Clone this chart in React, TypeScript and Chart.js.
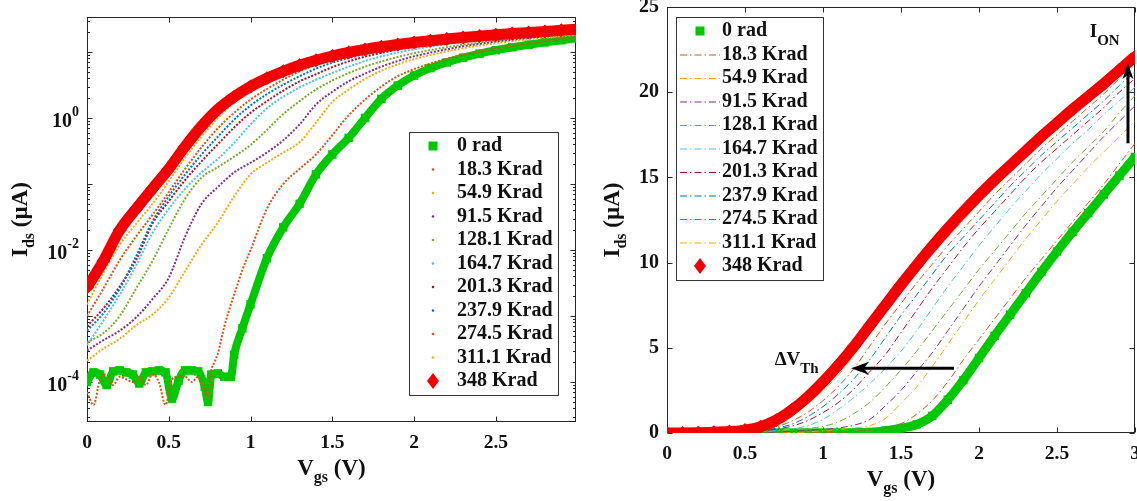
import { useEffect, useRef } from 'react';
import { Chart, registerables } from 'chart.js';

Chart.register(...registerables);

// ---------------- data ----------------
const SERIES_LABELS = ['0 rad', '18.3 Krad', '54.9 Krad', '91.5 Krad', '128.1 Krad', '164.7 Krad', '201.3 Krad', '237.9 Krad', '274.5 Krad', '311.1 Krad', '348 Krad'];
const SERIES_COLORS = ['rgb(0,200,0)', '#D95319', '#F5A81C', '#7E2F8E', '#77AC30', '#4DBEEE', '#A2142F', '#0072BD', '#D95319', '#F5A81C', 'rgb(242,0,0)'];

const VGS = [0, 0.1, 0.2, 0.3, 0.4, 0.5, 0.6, 0.7, 0.8, 0.9, 1.0, 1.1, 1.2, 1.3, 1.4, 1.5, 1.6, 1.7, 1.8, 1.9, 2.0, 2.1, 2.2, 2.3, 2.4, 2.5, 2.6, 2.7, 2.8, 2.9, 3.0];
const VGS_0RAD = [0, 0.04, 0.08, 0.12, 0.16, 0.2, 0.24, 0.28, 0.32, 0.36, 0.4, 0.44, 0.48, 0.52, 0.56, 0.6, 0.64, 0.68, 0.72, 0.74, 0.76, 0.8, 0.84, 0.88, 0.9, 0.95, 1.0, 1.1, 1.2, 1.3, 1.4, 1.5, 1.6, 1.7, 1.8, 1.9, 2.0, 2.1, 2.2, 2.3, 2.4, 2.5, 2.6, 2.7, 2.8, 2.9, 3.0];
const VGS_18K = [0, 0.04, 0.08, 0.12, 0.16, 0.2, 0.24, 0.28, 0.32, 0.36, 0.4, 0.44, 0.48, 0.52, 0.56, 0.6, 0.64, 0.68, 0.72, 0.74, 0.76, 0.78, 0.8, 0.84, 0.88, 0.9, 0.95, 1.0, 1.1, 1.2, 1.3, 1.4, 1.5, 1.6, 1.7, 1.8, 1.9, 2.0, 2.1, 2.2, 2.3, 2.4, 2.5, 2.6, 2.7, 2.8, 2.9, 3.0];

// drain current in µA
const I_0RAD = [1.0e-4, 1.4e-4, 1.3e-4, 9e-5, 1.45e-4, 1.5e-4, 1.4e-4, 1.3e-4, 9.5e-5, 1.4e-4, 1.45e-4, 1.5e-4, 1.4e-4, 5.6e-5, 1.05e-4, 1.5e-4, 1.5e-4, 1.45e-4, 8.5e-5, 5e-5, 1.3e-4, 1.35e-4, 1.2e-4, 1.2e-4, 2.6e-4, 6.5e-4, 1.5e-3, 7.5e-3, 0.022, 0.05, 0.14, 0.28, 0.5, 1.0, 1.95, 3.1, 4.4, 5.7, 6.95, 8.2, 9.45, 10.65, 11.8, 12.9, 14.0, 15.1, 16.2];
const I_18K = [7e-5, 4.5e-5, 1.1e-4, 1.3e-4, 9e-5, 1.2e-4, 1.1e-4, 1.0e-4, 1.2e-4, 9e-5, 1.3e-4, 1.0e-4, 4.5e-5, 1.1e-4, 1.2e-4, 1.2e-4, 1.0e-4, 1.2e-4, 7e-5, 6e-5, 1.5e-4, 2e-4, 2.7e-4, 7e-4, 1.5e-3, 2.1e-3, 5e-3, 0.010, 0.042, 0.10, 0.17, 0.28, 0.55, 1.1, 1.9, 3.0, 4.3, 5.5, 6.7, 7.9, 9.1, 10.2, 11.3, 12.4, 13.5, 14.6, 15.8, 17.0];
const I_54K = [2.1e-4, 3.2e-4, 4.5e-4, 7.2e-4, 1.05e-3, 1.9e-3, 4.8e-3, 0.012, 0.026, 0.065, 0.14, 0.21, 0.3, 0.43, 0.85, 1.75, 2.7, 3.9, 5.2, 6.5, 7.8, 9.0, 10.2, 11.4, 12.5, 13.6, 14.6, 15.6, 16.5, 17.4, 18.3];
const I_91K = [3.0e-4, 4.3e-4, 6e-4, 9.5e-4, 1.8e-3, 3.8e-3, 0.016, 0.05, 0.09, 0.15, 0.21, 0.3, 0.46, 0.8, 1.6, 2.5, 3.6, 4.7, 6.0, 7.3, 8.6, 9.8, 11.0, 12.2, 13.3, 14.4, 15.4, 16.4, 17.4, 18.3, 19.2];
const I_128K = [4.0e-4, 5.5e-4, 1.0e-3, 2.6e-3, 6.8e-3, 0.021, 0.06, 0.125, 0.18, 0.26, 0.39, 0.66, 1.15, 1.8, 2.7, 3.7, 4.8, 6.0, 7.2, 8.4, 9.6, 10.7, 11.8, 12.9, 13.9, 14.9, 15.9, 16.8, 17.7, 18.8, 19.8];
const I_164K = [3.6e-4, 8.5e-4, 2.1e-3, 5.8e-3, 0.018, 0.042, 0.085, 0.15, 0.24, 0.42, 0.8, 1.4, 2.1, 2.9, 3.8, 4.8, 6.0, 7.3, 8.6, 9.8, 11.0, 12.1, 13.2, 14.2, 15.2, 16.1, 17.0, 17.8, 18.7, 19.5, 20.3];
const I_201K = [7e-4, 1.3e-3, 2.8e-3, 7e-3, 0.025, 0.055, 0.115, 0.22, 0.4, 0.72, 1.2, 1.8, 2.6, 3.6, 4.6, 5.9, 7.2, 8.5, 9.7, 10.9, 12.0, 13.0, 14.0, 15.0, 15.9, 16.7, 17.5, 18.3, 19.1, 20.0, 20.8];
const I_237K = [6e-4, 1.1e-3, 2.6e-3, 8e-3, 0.027, 0.065, 0.14, 0.28, 0.52, 0.95, 1.55, 2.3, 3.2, 4.3, 5.6, 6.9, 8.1, 9.3, 10.5, 11.5, 12.5, 13.5, 14.5, 15.4, 16.3, 17.1, 17.9, 18.7, 19.5, 20.4, 21.2];
const I_274K = [1.0e-3, 2.6e-3, 7e-3, 0.016, 0.034, 0.075, 0.17, 0.36, 0.7, 1.2, 1.9, 2.75, 3.8, 5.1, 6.4, 7.6, 8.8, 9.9, 11.0, 12.0, 13.0, 14.0, 14.9, 15.8, 16.7, 17.5, 18.3, 19.1, 19.9, 20.8, 21.6];
const I_311K = [1.5e-3, 4.5e-3, 0.012, 0.025, 0.05, 0.11, 0.25, 0.52, 1.0, 1.7, 2.5, 3.4, 4.6, 5.9, 7.1, 8.3, 9.4, 10.5, 11.5, 12.5, 13.5, 14.4, 15.3, 16.2, 17.0, 17.9, 18.7, 19.4, 20.2, 21.1, 21.9];
const I_348K = [2.7e-3, 6.8e-3, 0.02, 0.042, 0.085, 0.17, 0.37, 0.75, 1.35, 2.1, 3.0, 4.0, 5.1, 6.3, 7.5, 8.7, 9.85, 10.95, 12.0, 13.0, 13.95, 14.85, 15.7, 16.55, 17.4, 18.2, 19.0, 19.75, 20.5, 21.3, 22.1];

const SERIES_V = [VGS_0RAD, VGS_18K, VGS, VGS, VGS, VGS, VGS, VGS, VGS, VGS, VGS];
const SERIES_I = [I_0RAD, I_18K, I_54K, I_91K, I_128K, I_164K, I_201K, I_237K, I_274K, I_311K, I_348K];

const X_TICKS = [0, 0.5, 1, 1.5, 2, 2.5, 3];
const X_TICK_LABELS = ['0', '0.5', '1', '1.5', '2', '2.5', '3'];
const LOG_LABEL_EXPONENTS = [-4, -2, 0];
const LIN_Y_TICKS = [0, 5, 10, 15, 20, 25];

// annotations (data coordinates of the right panel)
const VTH_ARROW = { vFrom: 1.84, vTo: 1.18, i: 3.8 };
const ION_ARROW = { v: 2.955, iFrom: 17.0, iTo: 21.7 };
const VTH_LABEL = { v: 0.69, i: 4.28 };
const ION_LABEL = { v: 2.71, i: 23.5 };

// ---------------- drawing helpers ----------------
const FONT = '"Liberation Serif", "Times New Roman", Times, serif';
const INK = '#111';
type Part = { t: string; k?: 0 | 1 | 2 }; // 1 = sub, 2 = sup

function rich(ctx: CanvasRenderingContext2D, parts: Part[], x: number, y: number, size: number, align: 'left' | 'center' | 'right', small?: number, shift?: number) {
  const ss = small ?? size * 0.72;
  const sh = shift ?? size * 0.42;
  const f = (s: number) => `bold ${s}px ${FONT}`;
  const ws = parts.map((p) => { ctx.font = f(p.k ? ss : size); return ctx.measureText(p.t).width; });
  const total = ws.reduce((a, b) => a + b, 0);
  let cx = align === 'left' ? x : align === 'center' ? x - total / 2 : x - total;
  ctx.textAlign = 'left';
  ctx.textBaseline = 'middle';
  ctx.fillStyle = INK;
  parts.forEach((p, i) => {
    ctx.font = f(p.k ? ss : size);
    const dy = p.k === 1 ? sh : p.k === 2 ? -sh : 0;
    ctx.fillText(p.t, cx, y + dy);
    cx += ws[i];
  });
}

function arrow(ctx: CanvasRenderingContext2D, x0: number, y0: number, x1: number, y1: number, lw: number, hl: number, hw: number) {
  const ang = Math.atan2(y1 - y0, x1 - x0);
  const ux = Math.cos(ang), uy = Math.sin(ang), nx = -uy, ny = ux;
  ctx.save();
  ctx.strokeStyle = '#000';
  ctx.fillStyle = '#000';
  ctx.lineWidth = lw;
  ctx.beginPath();
  ctx.moveTo(x0, y0);
  ctx.lineTo(x1 - ux * hl * 0.6, y1 - uy * hl * 0.6);
  ctx.stroke();
  const bx = x1 - ux * hl, by = y1 - uy * hl;
  ctx.beginPath();
  ctx.moveTo(x1, y1);
  ctx.lineTo(bx + nx * hw / 2, by + ny * hw / 2);
  ctx.lineTo(x1 - ux * hl * 0.7, y1 - uy * hl * 0.7);
  ctx.lineTo(bx - nx * hw / 2, by - ny * hw / 2);
  ctx.closePath();
  ctx.fill();
  ctx.restore();
}

type Kind = 'log' | 'lin';

function drawLegend(chart: any, kind: Kind) {
  const { ctx, chartArea: a } = chart;
  const ds = chart.data.datasets;
  const size = 20;
  const left = kind === 'log' ? a.left + 322 : a.left + 9;
  const top = kind === 'log' ? a.top + 115 : a.top + 10;
  const textOff = kind === 'log' ? 48 : 46;
  const markX = left + 24;
  const rowH = 23.5;
  ctx.save();
  ctx.font = `bold ${size}px ${FONT}`;
  let maxW = 0;
  ds.forEach((d: any) => { maxW = Math.max(maxW, ctx.measureText(d.label).width); });
  const w = textOff + maxW + 5;
  const h = 14 + (ds.length - 1) * rowH + 14;
  ctx.fillStyle = '#fff';
  ctx.fillRect(left, top, w, h);
  ctx.strokeStyle = '#333';
  ctx.lineWidth = 1;
  ctx.strokeRect(Math.round(left) + 0.5, Math.round(top) + 0.5, Math.round(w), Math.round(h));
  ds.forEach((d: any, k: number) => {
    const y = top + 14 + k * rowH;
    ctx.fillStyle = d.borderColor;
    ctx.strokeStyle = d.borderColor;
    if (k === 0) {
      ctx.fillRect(markX - 4.5, y - 4.5, 9, 9);
    } else if (k === ds.length - 1) {
      ctx.beginPath();
      ctx.moveTo(markX, y - 8); ctx.lineTo(markX + 6, y); ctx.lineTo(markX, y + 8); ctx.lineTo(markX - 6, y);
      ctx.closePath(); ctx.fill();
    } else if (kind === 'log') {
      ctx.beginPath(); ctx.arc(markX, y, 1.3, 0, Math.PI * 2); ctx.fill();
    } else {
      ctx.lineWidth = 1;
      ctx.setLineDash([7, 3, 1.5, 3]);
      ctx.beginPath(); ctx.moveTo(left + 4, y + 0.5); ctx.lineTo(left + 44, y + 0.5); ctx.stroke();
      ctx.setLineDash([]);
    }
    rich(ctx, [{ t: d.label }], left + textOff, y, size, 'left');
  });
  ctx.restore();
}

function makeDecor(kind: Kind) {
  return {
    id: 'decor-' + kind,
    beforeDatasetsDraw(chart: any) {
      const { ctx, chartArea: a } = chart;
      const xs = chart.scales.x, ys = chart.scales.y;
      ctx.save();
      ctx.strokeStyle = '#262626';
      ctx.lineWidth = 1;
      const L = Math.round(a.left) + 0.5, R = Math.round(a.right) - 0.5, T = Math.round(a.top) + 0.5, B = Math.round(a.bottom) - 0.5;
      ctx.strokeRect(L, T, R - L, B - T);
      ctx.beginPath();
      X_TICKS.forEach((v) => {
        if (v < xs.min || v > xs.max) return;
        const px = Math.round(xs.getPixelForValue(v)) + 0.5;
        ctx.moveTo(px, B); ctx.lineTo(px, B - 5);
        ctx.moveTo(px, T); ctx.lineTo(px, T + 5);
      });
      const yTick = (v: number, len: number) => {
        const py = Math.round(ys.getPixelForValue(v)) + 0.5;
        ctx.moveTo(L, py); ctx.lineTo(L + len, py);
        ctx.moveTo(R, py); ctx.lineTo(R - len, py);
      };
      if (kind === 'log') {
        for (let e = -6; e <= 2; e++) {
          for (let m = 1; m <= 9; m++) {
            const v = m * Math.pow(10, e);
            if (v < ys.min || v > ys.max) continue;
            yTick(v, m === 1 ? 5 : 2.5);
          }
        }
      } else {
        LIN_Y_TICKS.forEach((v) => yTick(v, 5));
      }
      ctx.stroke();
      ctx.restore();
    },
    afterDraw(chart: any) {
      const { ctx, chartArea: a } = chart;
      const xs = chart.scales.x, ys = chart.scales.y;
      ctx.save();
      X_TICKS.forEach((v, i) => {
        if (v < xs.min || v > xs.max) return;
        rich(ctx, [{ t: X_TICK_LABELS[i] }], xs.getPixelForValue(v), a.bottom + 21, 19.5, 'center');
      });
      if (kind === 'log') {
        LOG_LABEL_EXPONENTS.forEach((e) => {
          const py = ys.getPixelForValue(Math.pow(10, e));
          rich(ctx, [{ t: '10' }, { t: String(e), k: 2 }], a.left - 8, py + 3.5, 20, 'right', 14, 9);
        });
      } else {
        LIN_Y_TICKS.forEach((v) => {
          rich(ctx, [{ t: String(v) }], a.left - 8, ys.getPixelForValue(v), 20, 'right');
        });
      }
      const cx = (a.left + a.right) / 2;
      rich(ctx, [{ t: 'V' }, { t: 'gs', k: 1 }, { t: ' (V)' }], cx, a.bottom + 47, 23, 'center', 16, 9);
      ctx.save();
      ctx.translate(a.left - (kind === 'log' ? 66 : 54), (a.top + a.bottom) / 2);
      ctx.rotate(-Math.PI / 2);
      rich(ctx, [{ t: 'I' }, { t: 'ds', k: 1 }, { t: ' (\u00B5A)' }], 0, 0, 23, 'center', 16, 9);
      ctx.restore();
      drawLegend(chart, kind);
      if (kind === 'lin') {
        arrow(ctx, xs.getPixelForValue(VTH_ARROW.vFrom), ys.getPixelForValue(VTH_ARROW.i), xs.getPixelForValue(VTH_ARROW.vTo), ys.getPixelForValue(VTH_ARROW.i), 3, 18, 13);
        arrow(ctx, xs.getPixelForValue(ION_ARROW.v), ys.getPixelForValue(ION_ARROW.iFrom), xs.getPixelForValue(ION_ARROW.v), ys.getPixelForValue(ION_ARROW.iTo), 3, 16, 11);
        rich(ctx, [{ t: '\u0394V' }, { t: 'Th', k: 1 }], xs.getPixelForValue(VTH_LABEL.v), ys.getPixelForValue(VTH_LABEL.i), 19, 'left', 15, 9);
        rich(ctx, [{ t: 'I' }, { t: 'ON', k: 1 }], xs.getPixelForValue(ION_LABEL.v), ys.getPixelForValue(ION_LABEL.i), 19, 'left', 15, 9);
      }
      ctx.restore();
    },
  };
}

function buildDatasets(kind: Kind) {
  const n = SERIES_LABELS.length;
  return SERIES_LABELS.map((label, k) => {
    const data = SERIES_V[k].map((v, j) => ({ x: v, y: SERIES_I[k][j] }));
    const color = SERIES_COLORS[k];
    const base: any = {
      label, data, borderColor: color, backgroundColor: color, order: n - k,
      cubicInterpolationMode: 'monotone', borderJoinStyle: 'round', pointHoverRadius: 0,
    };
    if (k === 0) return { ...base, borderWidth: kind === 'log' ? 8 : 9, pointStyle: 'rect', pointRadius: 6, pointBorderWidth: 0 };
    if (k === n - 1) return { ...base, borderWidth: 11, pointStyle: 'rectRot', pointRadius: 7, pointBorderWidth: 0 };
    if (kind === 'log') return { ...base, borderWidth: 2, borderDash: [2, 1.6], pointRadius: 0 };
    return { ...base, borderWidth: 1, borderDash: [7, 3, 1.5, 3], pointRadius: 0 };
  });
}

function makeConfig(kind: Kind): any {
  const isLog = kind === 'log';
  return {
    type: 'line',
    data: { datasets: buildDatasets(kind) },
    options: {
      animation: false,
      responsive: false,
      devicePixelRatio: 1,
      events: [],
      layout: { padding: isLog ? { left: 0, right: 14, top: 17, bottom: 0 } : { left: 0, right: 4, top: 7, bottom: 0 } },
      plugins: { legend: { display: false }, tooltip: { enabled: false }, title: { display: false } },
      scales: {
        x: {
          type: 'linear', min: 0, max: isLog ? 2.99 : 3,
          grid: { display: false, drawTicks: false }, border: { display: false }, ticks: { display: false },
          afterFit: (s: any) => { s.height = isLog ? 79 : 68; },
        },
        y: isLog
          ? {
            type: 'logarithmic', min: 2.48e-5, max: 33.9,
            grid: { display: false, drawTicks: false }, border: { display: false }, ticks: { display: false },
            afterFit: (s: any) => { s.width = 87; },
          }
          : {
            type: 'linear', min: 0, max: 25,
            grid: { display: false, drawTicks: false }, border: { display: false }, ticks: { display: false },
            afterFit: (s: any) => { s.width = 87; },
          },
      },
    },
    plugins: [makeDecor(kind)],
  };
}

export default function App() {
  const leftRef = useRef<HTMLCanvasElement>(null);
  const rightRef = useRef<HTMLCanvasElement>(null);
  useEffect(() => {
    const c1 = new Chart(leftRef.current as HTMLCanvasElement, makeConfig('log'));
    const c2 = new Chart(rightRef.current as HTMLCanvasElement, makeConfig('lin'));
    return () => { c1.destroy(); c2.destroy(); };
  }, []);
  return (
    <div style={{ position: 'fixed', left: 0, top: 0, width: 1137, height: 501, overflow: 'hidden', background: '#fff' }}>
      <canvas ref={leftRef} width={590} height={501} style={{ position: 'absolute', left: 0, top: 0, width: 590, height: 501 }} />
      <canvas ref={rightRef} width={562} height={501} style={{ position: 'absolute', left: 580, top: 0, width: 562, height: 501 }} />
    </div>
  );
}
